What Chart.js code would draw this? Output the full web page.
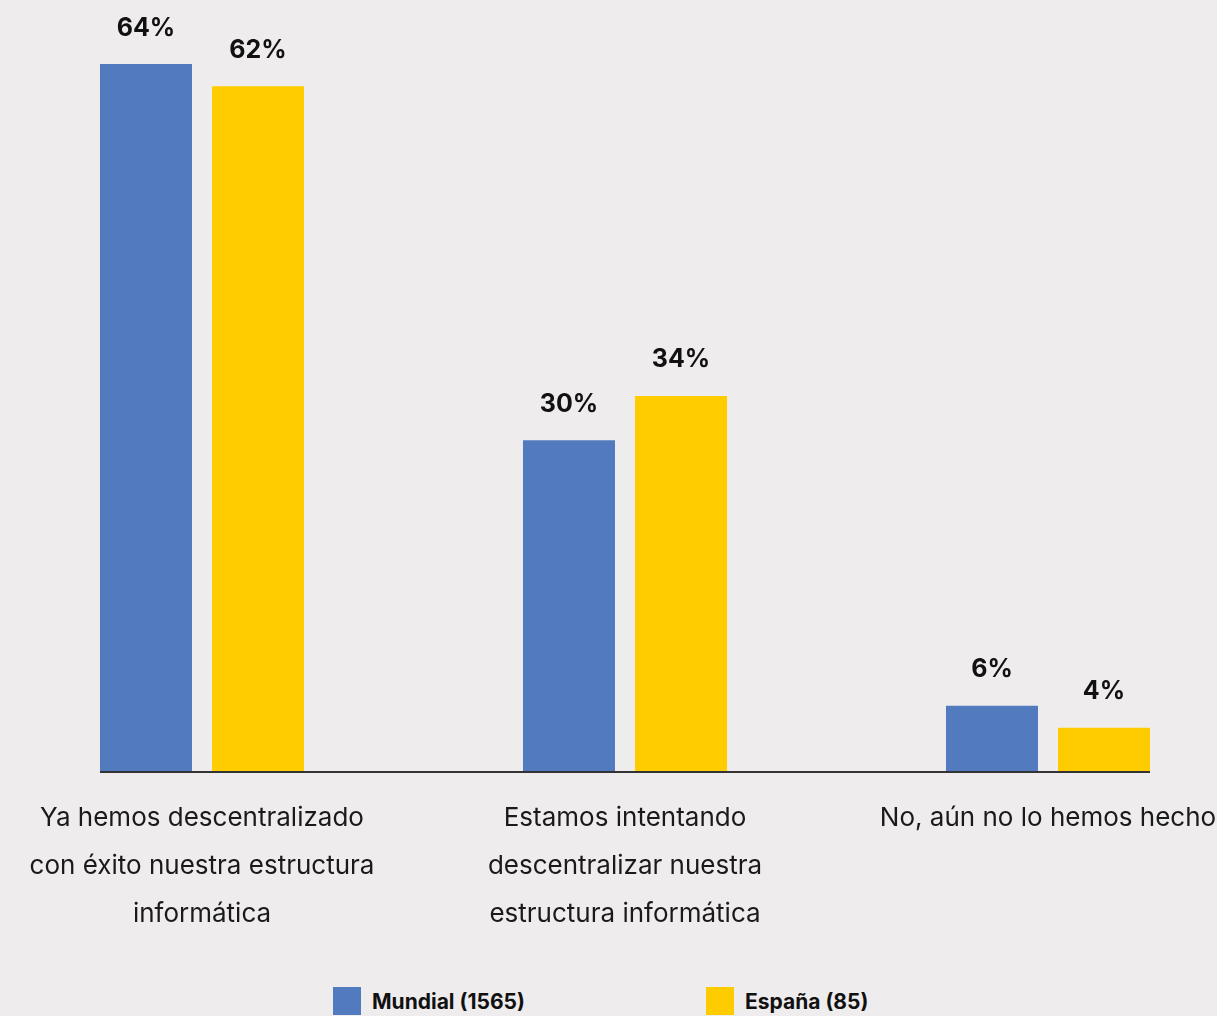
<!DOCTYPE html>
<html>
<head>
<meta charset="utf-8">
<script src="https://cdn.jsdelivr.net/npm/chart.js@4"></script>
<style>
  html, body { margin: 0; padding: 0; background: #efeced; width: 1217px; height: 1016px; overflow: hidden; }
  #c { position: absolute; left: 0; top: 0; width: 1217px; height: 975px; }
  #legend { position: absolute; left: 333px; top: 987px; display: flex; font-family: Inter, "Noto Sans", sans-serif; font-weight: 700; font-size: 21px; color: #111; }
  .item { display: flex; align-items: center; }
  .box { width: 28px; height: 28px; margin-right: 11px; }
</style>
</head>
<body>
<canvas id="c" width="1217" height="975"></canvas>
<div id="legend"></div>
<script>
const categories = [
  ["Ya hemos descentralizado", "con éxito nuestra estructura", "informática"],
  ["Estamos intentando", "descentralizar nuestra", "estructura informática"],
  ["No, aún no lo hemos hecho"]
];
const seriesNames = ["Mundial (1565)", "España (85)"];
const mundial = [64, 30, 6];
const espana = [62, 34, 4];
const colors = ["#527bbf", "#ffcc00"];

const valueLabels = {
  id: 'valueLabels',
  afterDatasetsDraw(chart) {
    const ctx = chart.ctx;
    ctx.save();
    ctx.font = '700 25px Inter, "Noto Sans", sans-serif';
    ctx.fillStyle = '#111';
    ctx.textAlign = 'center';
    ctx.textBaseline = 'middle';
    chart.data.datasets.forEach((ds, di) => {
      chart.getDatasetMeta(di).data.forEach((bar, i) => {
        ctx.fillText(ds.data[i] + '%', bar.x, bar.y - 36);
      });
    });
    ctx.restore();
  }
};

const baseline = {
  id: 'baseline',
  afterDatasetsDraw(chart) {
    const first = chart.getDatasetMeta(0).data[0];
    const lastMeta = chart.getDatasetMeta(chart.data.datasets.length - 1).data;
    const last = lastMeta[lastMeta.length - 1];
    const y = chart.scales.y.getPixelForValue(0);
    const ctx = chart.ctx;
    ctx.save();
    ctx.strokeStyle = '#333';
    ctx.lineWidth = 2;
    ctx.beginPath();
    ctx.moveTo(first.x - first.width / 2, y);
    ctx.lineTo(last.x + last.width / 2, y);
    ctx.stroke();
    ctx.restore();
  }
};

const chart = new Chart(document.getElementById('c'), {
  type: 'bar',
  data: {
    labels: categories,
    datasets: [
      { label: seriesNames[0], data: mundial, backgroundColor: colors[0], clip: false },
      { label: seriesNames[1], data: espana, backgroundColor: colors[1], clip: false }
    ]
  },
  options: {
    responsive: false,
    animation: false,
    devicePixelRatio: 1,
    categoryPercentage: 0.5296,
    barPercentage: 0.8214,
    layout: { padding: { top: 64, left: 202, right: 169, bottom: 37 } },
    plugins: { legend: { display: false }, tooltip: { enabled: false } },
    scales: {
      x: {
        offset: false,
        grid: { display: true, drawOnChartArea: false, drawTicks: true, tickLength: 22, tickColor: 'rgba(0,0,0,0)' },
        border: { display: false },
        ticks: {
          autoSkip: false, maxRotation: 0, minRotation: 0, padding: 0,
          color: '#1a1a1a',
          font: { family: 'Inter, "Noto Sans", sans-serif', size: 26, lineHeight: 1.846 }
        }
      },
      y: { display: false, min: 0, max: 64 }
    }
  },
  plugins: [valueLabels, baseline]
});

const legend = document.getElementById('legend');
chart.data.datasets.forEach((ds, i) => {
  const item = document.createElement('div');
  item.className = 'item';
  if (i === 0) item.style.width = '373px';
  const box = document.createElement('span');
  box.className = 'box';
  box.style.background = ds.backgroundColor;
  const txt = document.createElement('span');
  txt.textContent = ds.label;
  item.appendChild(box);
  item.appendChild(txt);
  legend.appendChild(item);
});
</script>
</body>
</html>
